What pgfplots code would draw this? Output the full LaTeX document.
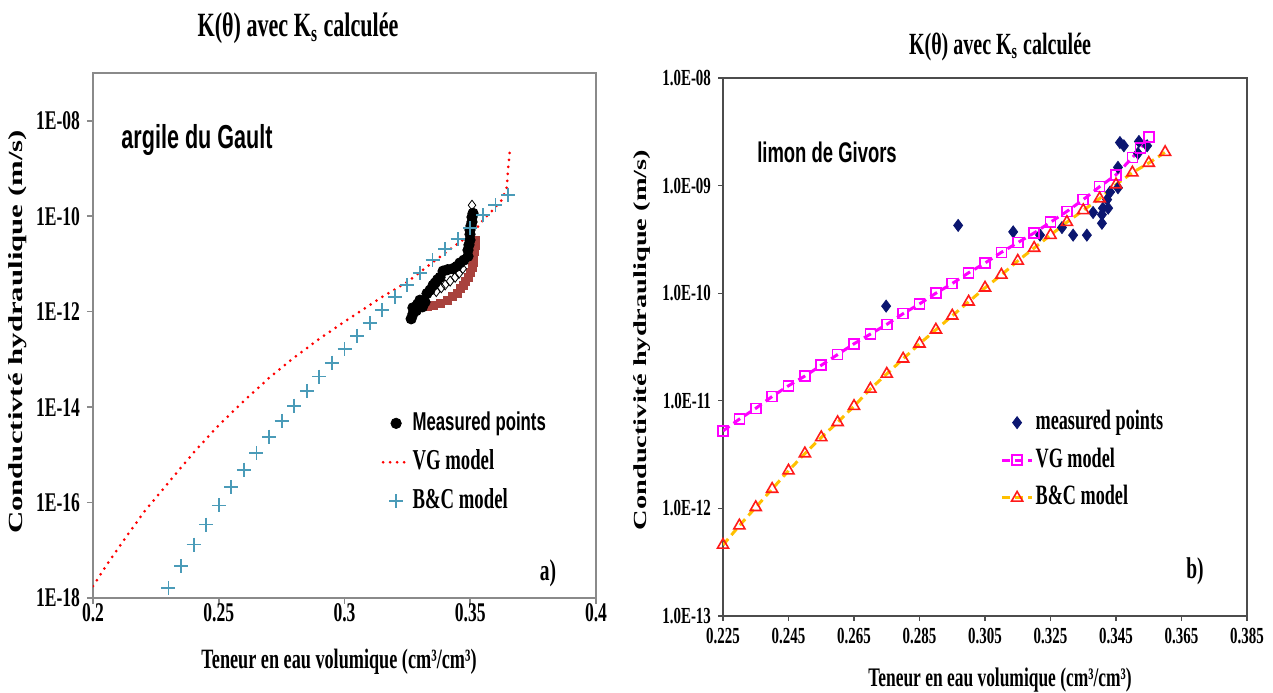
\documentclass[border=0pt]{standalone}
\usepackage{fontspec}
\setmainfont{Liberation Serif}[FakeStretch=0.65]
\setsansfont{Liberation Sans}[FakeStretch=0.65]
\newfontfamily\ylabfont{Liberation Serif}
\usepackage{graphicx}
\usepackage{pgfplots}
\pgfplotsset{compat=1.18}

\definecolor{bcblue}{HTML}{4A9BB8}
\definecolor{brownred}{HTML}{A8423D}
\definecolor{navy}{HTML}{0B1670}
\definecolor{vgmag}{HTML}{FF00FF}
\definecolor{bcorange}{HTML}{FFC000}
\definecolor{bcred}{HTML}{FF1A1A}
\definecolor{spine}{HTML}{8A8A8A}

\begin{document}
\begin{tikzpicture}
\useasboundingbox (0pt,0pt) rectangle (636.5pt,346pt);

% ---------- a) argile du Gault ----------
\begin{axis}[
    at={(46.5pt,47pt)}, anchor=south west,
    scale only axis, width=251.5pt, height=262.5pt,
    xmin=0.2, xmax=0.4, ymin=-18, ymax=-7,
    xtick={0.2,0.25,0.3,0.35,0.4},
    xticklabels={0.2,0.25,0.3,0.35,0.4},
    ytick={-18,-16,-14,-12,-10,-8},
    yticklabels={1E-18,1E-16,1E-14,1E-12,1E-10,1E-08},
    xtick pos=bottom, ytick pos=left,
    tick align=outside, major tick length=3pt,
    axis line style={spine, line width=0.8pt},
    tick style={spine, line width=0.8pt},
    ticklabel style={font=\bfseries\fontsize{13.5}{15}\selectfont},
    xticklabel style={yshift=4pt},
    legend image code/.code={\draw[mark repeat=2,mark phase=2,#1] plot coordinates {(0pt,0pt) (6.5pt,0pt) (13pt,0pt)};},
    legend style={at={(rel axis cs:0.573,0.362)}, anchor=north west,
        draw=none, fill=none, inner sep=0pt, row sep=4.5pt,
        nodes={inner sep=1pt, text height=10pt, text depth=3pt},
        font=\bfseries\fontsize{14.4}{16}\selectfont},
    legend cell align=left,
]
% measured points (three series)
\addplot[only marks, mark=square*, mark size=2pt, color=brownred, forget plot]
coordinates {
(0.3330,-11.90)(0.3352,-11.86)(0.3380,-11.82)(0.3408,-11.76)(0.3430,-11.68)
(0.3447,-11.61)(0.3460,-11.52)(0.3471,-11.44)(0.3482,-11.36)(0.3491,-11.28)
(0.3500,-11.17)(0.3507,-11.07)(0.3511,-10.96)(0.3511,-10.86)(0.3515,-10.74)
(0.3519,-10.62)(0.3519,-10.50)
};
\addplot[only marks, mark=diamond, mark size=2.5pt, color=black, mark options={fill=white}, forget plot]
coordinates {
(0.3365,-11.58)(0.3385,-11.50)(0.3400,-11.44)(0.3420,-11.36)(0.3440,-11.28)
(0.3455,-11.20)(0.3470,-11.10)(0.3507,-9.77)
};
\addplot[only marks, mark=*, mark size=2.6pt, color=black]
coordinates {
(0.3265,-12.15)(0.3272,-12.05)(0.3272,-11.92)(0.3285,-11.98)(0.3290,-11.85)
(0.3300,-11.76)(0.3310,-11.90)(0.3320,-11.80)(0.3328,-11.62)(0.3340,-11.55)
(0.3352,-11.45)(0.3360,-11.40)(0.3370,-11.33)(0.3380,-11.28)(0.3392,-11.15)
(0.3410,-11.12)(0.3430,-11.10)(0.3447,-11.05)(0.3459,-10.98)(0.3475,-10.92)
(0.3491,-10.84)(0.3491,-10.71)(0.3495,-10.60)(0.3499,-10.50)(0.3499,-10.38)
(0.3499,-10.29)(0.3503,-10.20)(0.3507,-10.12)(0.3507,-10.02)(0.3511,-9.94)
};
\addlegendentry{{\sffamily\fontsize{12.9}{15}\selectfont Measured points}}
% VG model
\addplot[color=red, line width=1.5pt, line cap=round, dash pattern=on 0pt off 3.5pt]
coordinates {
(0.2000,-17.75)(0.2068,-17.20)(0.2136,-16.69)(0.2204,-16.19)(0.2272,-15.76)
(0.2340,-15.33)(0.2409,-14.90)(0.2500,-14.38)(0.2600,-13.87)(0.2700,-13.39)
(0.2800,-12.96)(0.2900,-12.57)(0.3000,-12.21)(0.3141,-11.72)(0.3249,-11.38)
(0.3352,-10.96)(0.3459,-10.54)(0.3511,-10.35)(0.3551,-10.08)(0.3590,-9.87)
(0.3626,-9.66)(0.3646,-9.39)(0.3650,-9.03)(0.3658,-8.61)
};
\addlegendentry{VG model}
% B&C model
\addplot[only marks, mark=+, mark size=3.5pt, color=bcblue, mark options={line width=0.9pt}]
coordinates {
(0.230,-17.79)(0.235,-17.33)(0.240,-16.88)(0.245,-16.46)(0.250,-16.06)
(0.255,-15.68)(0.260,-15.31)(0.265,-14.96)(0.270,-14.62)(0.275,-14.29)
(0.280,-13.97)(0.285,-13.66)(0.290,-13.36)(0.295,-13.07)(0.300,-12.79)
(0.305,-12.51)(0.310,-12.24)(0.315,-11.97)(0.320,-11.70)(0.325,-11.44)
(0.330,-11.19)(0.335,-10.92)(0.340,-10.69)(0.345,-10.48)(0.350,-10.25)
(0.355,-9.98)(0.360,-9.77)(0.365,-9.56)
};
\addlegendentry{B\&C model}
\end{axis}

% ---------- b) limon de Givors ----------
\begin{axis}[
    at={(361.5pt,38pt)}, anchor=south west,
    scale only axis, width=262pt, height=269pt,
    xmin=0.225, xmax=0.385, ymin=-13, ymax=-8,
    xtick={0.225,0.245,0.265,0.285,0.305,0.325,0.345,0.365,0.385},
    xticklabels={0.225,0.245,0.265,0.285,0.305,0.325,0.345,0.365,0.385},
    ytick={-13,-12,-11,-10,-9,-8},
    yticklabels={1.0E-13,1.0E-12,1.0E-11,1.0E-10,1.0E-09,1.0E-08},
    xtick pos=bottom, ytick pos=left,
    tick align=outside, major tick length=2.5pt,
    axis line style={black!70, line width=0.6pt},
    tick style={black!70, line width=0.6pt},
    ticklabel style={font=\bfseries\fontsize{11.5}{13}\selectfont},
    legend image code/.code={\draw[mark repeat=2,mark phase=2,#1] plot coordinates {(0pt,0pt) (7.5pt,0pt) (15pt,0pt)};},
    legend style={at={(rel axis cs:0.529,0.388)}, anchor=north west,
        draw=none, fill=none, inner sep=0pt, row sep=3.8pt,
        nodes={inner sep=1pt, text height=10pt, text depth=3pt},
        font=\bfseries\fontsize{14}{16}\selectfont},
    legend cell align=left,
]
\addplot[only marks, mark=diamond*, mark size=3pt, color=navy]
coordinates {
(0.2748,-10.12)(0.2968,-9.37)(0.3136,-9.43)(0.3218,-9.46)(0.3285,-9.39)
(0.3319,-9.46)(0.3361,-9.46)(0.3380,-9.25)(0.3407,-9.35)(0.3407,-9.27)
(0.3410,-9.21)(0.3426,-9.21)(0.3423,-9.13)(0.3432,-9.06)(0.3456,-9.02)
(0.3456,-8.83)(0.3517,-8.70)(0.3520,-8.59)(0.3545,-8.63)(0.3462,-8.60)
(0.3474,-8.63)
};
\addlegendentry{measured points}
\addplot[color=vgmag, line width=1.5pt, dash pattern=on 4pt off 2.5pt,
    mark=square, mark size=2.5pt, mark options={solid, line width=0.8pt, fill=white}]
coordinates {
(0.225,-11.28)(0.230,-11.17)(0.235,-11.07)(0.240,-10.96)(0.245,-10.86)
(0.250,-10.77)(0.255,-10.67)(0.260,-10.57)(0.265,-10.47)(0.270,-10.38)
(0.275,-10.29)(0.280,-10.19)(0.285,-10.10)(0.290,-10.00)(0.295,-9.91)
(0.300,-9.81)(0.305,-9.72)(0.310,-9.62)(0.315,-9.53)(0.320,-9.44)
(0.325,-9.34)(0.330,-9.24)(0.335,-9.13)(0.340,-9.01)(0.345,-8.90)
(0.350,-8.74)(0.3525,-8.65)(0.355,-8.55)
};
\addlegendentry{VG model}
\addplot[color=bcorange, line width=1.5pt, dash pattern=on 4pt off 2.5pt,
    mark=triangle, mark size=3.2pt, mark options={solid, draw=bcred, line width=0.8pt, fill=white}]
coordinates {
(0.225,-12.34)(0.230,-12.16)(0.235,-11.99)(0.240,-11.82)(0.245,-11.65)
(0.250,-11.49)(0.255,-11.34)(0.260,-11.20)(0.265,-11.05)(0.270,-10.89)
(0.275,-10.75)(0.280,-10.61)(0.285,-10.47)(0.290,-10.34)(0.295,-10.21)
(0.300,-10.08)(0.305,-9.95)(0.310,-9.83)(0.315,-9.70)(0.320,-9.58)
(0.325,-9.46)(0.330,-9.34)(0.335,-9.23)(0.340,-9.12)(0.345,-8.99)
(0.350,-8.88)(0.355,-8.79)(0.360,-8.69)
};
\addlegendentry{B\&C model}
\end{axis}

% titles, axis labels, annotations
\node at (149pt,332pt) {\bfseries\fontsize{17}{19}\selectfont K(θ) avec K\textsubscript{s} calculée};
\node at (500pt,322.5pt) {\bfseries\fontsize{15.4}{17}\selectfont K(θ) avec K\textsubscript{s} calculée};
\node[rotate=90] at (9pt,180pt) {\scalebox{1}[0.65]{\ylabfont\bfseries\fontsize{15.4}{18}\selectfont Conductivté hydraulique (m/s)}};
\node[rotate=90] at (321pt,176pt) {\scalebox{1}[0.65]{\ylabfont\bfseries\fontsize{14.2}{17}\selectfont Conductivité hydraulique (m/s)}};
\node at (169.5pt,15pt) {\bfseries\fontsize{14}{16}\selectfont Teneur en eau volumique (cm³/cm³)};
\node at (500pt,6pt) {\bfseries\fontsize{13.4}{15}\selectfont Teneur en eau volumique (cm³/cm³)};
\node at (98.5pt,276pt) {\sffamily\bfseries\fontsize{16.6}{19}\selectfont argile du Gault};
\node at (413.5pt,270pt) {\sffamily\bfseries\fontsize{14.2}{17}\selectfont limon de Givors};
\node at (274pt,59.5pt) {\bfseries\fontsize{15}{17}\selectfont a)};
\node at (597.5pt,60.5pt) {\bfseries\fontsize{15}{17}\selectfont b)};
\end{tikzpicture}
\end{document}
